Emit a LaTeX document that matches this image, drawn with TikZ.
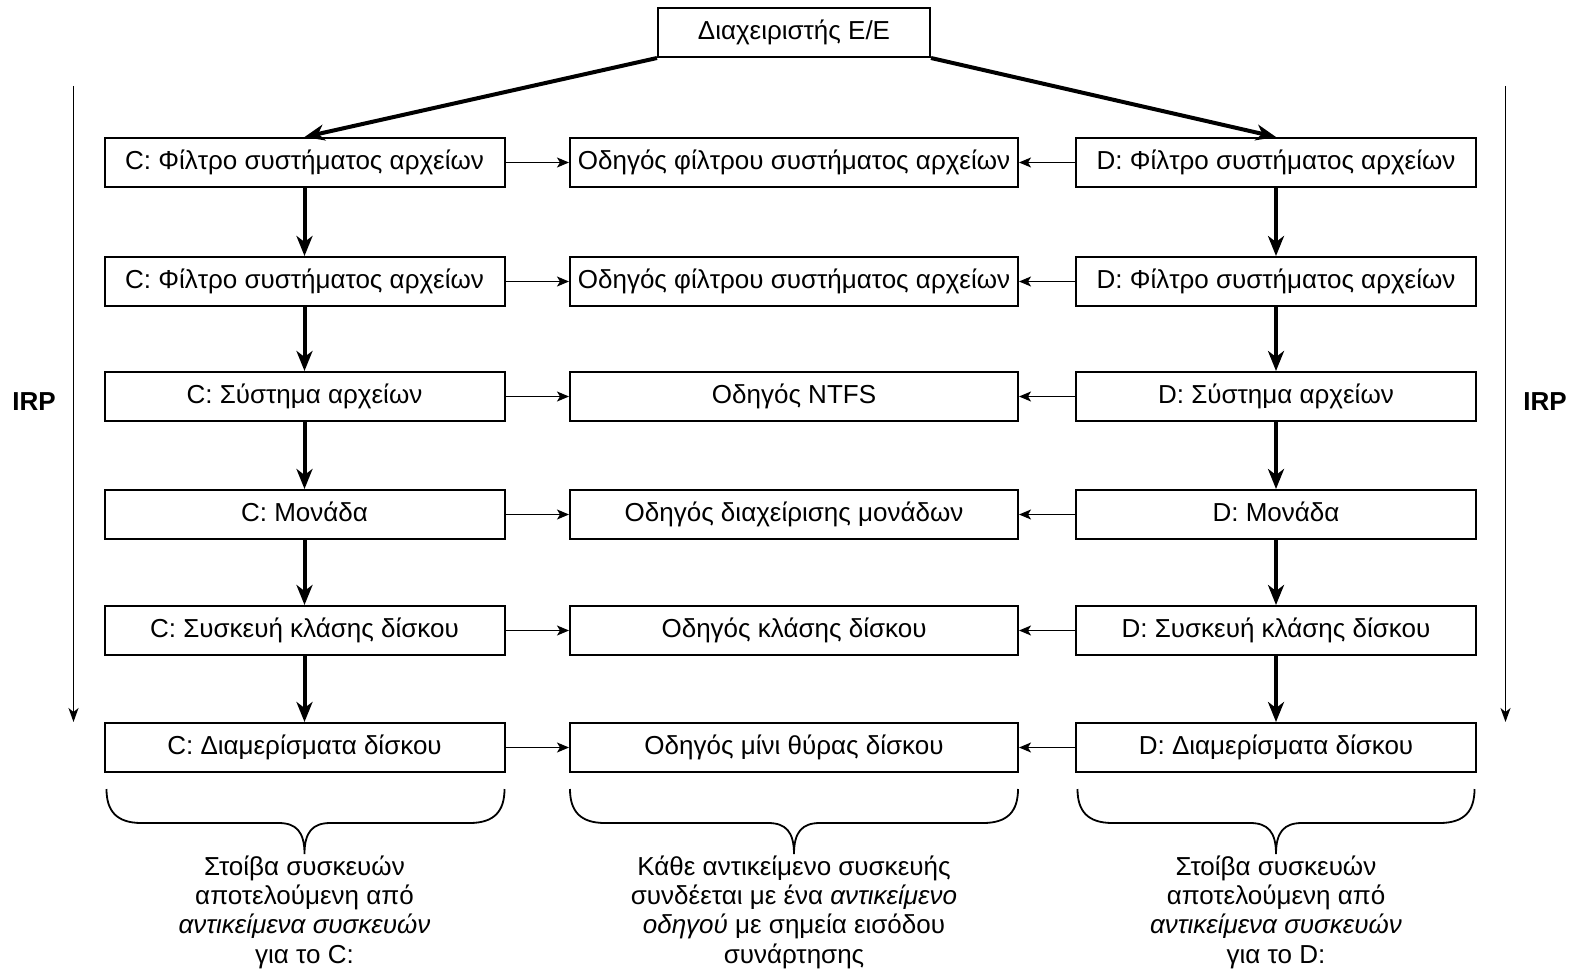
\documentclass[tikz,border=0pt]{standalone}
\usepackage{fontspec}
\setmainfont{Liberation Sans}
\usetikzlibrary{arrows.meta}
\begin{document}
\begin{tikzpicture}[x=1pt,y=-1pt,
  every node/.style={font=\fontsize{26}{29.3}\selectfont},
  box/.style={draw, line width=2pt, minimum height=49pt, inner sep=0pt,
    text height=18pt, text depth=4pt},
  sidebox/.style={box, minimum width=400pt},
  drvbox/.style={box, minimum width=448pt},
  flow/.style={line width=4pt, -{Stealth[length=20pt,width=16pt,inset=6pt]}},
  link/.style={line width=1.5pt, -{Stealth[length=12pt,width=10pt,inset=3pt]}},
  irp/.style={line width=1.5pt, -{Stealth[length=14pt,width=10pt,inset=4pt]}},
  curly/.style={line width=1.8pt},
  note/.style={align=center, inner sep=0pt},
  irplabel/.style={font=\fontsize{26}{28}\selectfont\bfseries}
]
\useasboundingbox (0,0) rectangle (1576,971);

% I/O manager
\node[box, minimum width=272pt] (io) at (794,32.5) {Διαχειριστής Ε/Ε};

% device stack for C:
\node[sidebox] (c1) at (304.5,162.5) {C: Φίλτρο συστήματος αρχείων};
\node[sidebox] (c2) at (304.5,281.5) {C: Φίλτρο συστήματος αρχείων};
\node[sidebox] (c3) at (304.5,396.5) {C: Σύστημα αρχείων};
\node[sidebox] (c4) at (304.5,514.5) {C: Μονάδα};
\node[sidebox] (c5) at (304.5,630.5) {C: Συσκευή κλάσης δίσκου};
\node[sidebox] (c6) at (304.5,747.5) {C: Διαμερίσματα δίσκου};

% driver objects
\node[drvbox] (m1) at (794,162.5) {Οδηγός φίλτρου συστήματος αρχείων};
\node[drvbox] (m2) at (794,281.5) {Οδηγός φίλτρου συστήματος αρχείων};
\node[drvbox] (m3) at (794,396.5) {Οδηγός NTFS};
\node[drvbox] (m4) at (794,514.5) {Οδηγός διαχείρισης μονάδων};
\node[drvbox] (m5) at (794,630.5) {Οδηγός κλάσης δίσκου};
\node[drvbox] (m6) at (794,747.5) {Οδηγός μίνι θύρας δίσκου};

% device stack for D:
\node[sidebox] (d1) at (1276,162.5) {D: Φίλτρο συστήματος αρχείων};
\node[sidebox] (d2) at (1276,281.5) {D: Φίλτρο συστήματος αρχείων};
\node[sidebox] (d3) at (1276,396.5) {D: Σύστημα αρχείων};
\node[sidebox] (d4) at (1276,514.5) {D: Μονάδα};
\node[sidebox] (d5) at (1276,630.5) {D: Συσκευή κλάσης δίσκου};
\node[sidebox] (d6) at (1276,747.5) {D: Διαμερίσματα δίσκου};

% requests from the I/O manager
\draw[flow] (io.south west) -- (c1.north);
\draw[flow] (io.south east) -- (d1.north);

% down each stack
\foreach \a/\b in {1/2,2/3,3/4,4/5,5/6}{
  \draw[flow] (c\a.south) -- (c\b.north);
  \draw[flow] (d\a.south) -- (d\b.north);
}

% each device object to its driver
\foreach \i in {1,...,6}{
  \draw[link] (c\i.east) -- (m\i.west);
  \draw[link] (d\i.west) -- (m\i.east);
}

% IRP direction
\coordinate (irpLtop) at (73.5,86);
\coordinate (irpLbot) at (73.5,722);
\coordinate (irpRtop) at (1505.5,86);
\coordinate (irpRbot) at (1505.5,722);
\draw[irp] (irpLtop) -- (irpLbot);
\draw[irp] (irpRtop) -- (irpRbot);
\node[irplabel] (irpL) at (34,402) {IRP};
\node[irplabel] (irpR) at (1545,402) {IRP};

% braces under the columns
\newcommand\stackbrace[3]{%
  \draw[curly] (#1,789) .. controls (#1,811) and (#1+10,823) .. (#1+35,823)
    -- (#3-26,823) .. controls (#3-8,823) and (#3,832) .. (#3,854)
    .. controls (#3,832) and (#3+8,823) .. (#3+26,823)
    -- (#2-35,823) .. controls (#2-10,823) and (#2,811) .. (#2,789);}
\stackbrace{106.5}{504.5}{304.5}
\stackbrace{570}{1018}{794}
\stackbrace{1077.5}{1474.5}{1276}

% captions
\node[note] (capC) at (304.5,912) {Στοίβα συσκευών\\αποτελούμενη από\\\textit{αντικείμενα συσκευών}\\για το C:};
\node[note] (capM) at (794,912) {Κάθε αντικείμενο συσκευής\\συνδέεται με ένα \textit{αντικείμενο}\\\textit{οδηγού} με σημεία εισόδου\\συνάρτησης};
\node[note] (capD) at (1276,912) {Στοίβα συσκευών\\αποτελούμενη από\\\textit{αντικείμενα συσκευών}\\για το D:};
\end{tikzpicture}
\end{document}
